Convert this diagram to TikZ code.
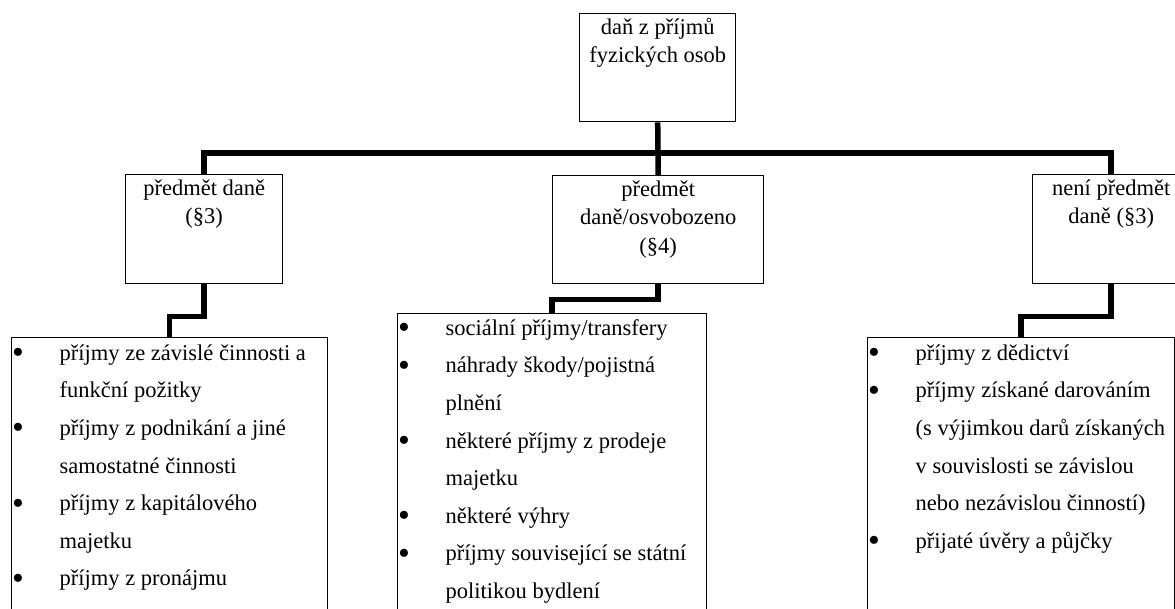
\documentclass[tikz,border=0pt]{standalone}
\usepackage{fontspec}
\setmainfont{Liberation Serif}
\newcommand\mystrutH{\rule{0pt}{21pt}}
\newcommand\mystrutL{\rule{0pt}{23pt}}
\newcommand\myitem{\makebox[47.5pt][l]{\raisebox{-3.5pt}{\scalebox{1.5}{•}}}}
\newcommand\mycont{\makebox[47.5pt][l]{}}
\begin{document}
\begin{tikzpicture}[x=1pt,y=-1pt,
  hbox/.style={draw, line width=1.4pt, inner sep=0pt, anchor=north west},
  conn/.style={line width=5.5pt},
  htext/.style={anchor=north, inner sep=0pt, align=center, font=\fontsize{22.5}{28.5}\selectfont},
  ltext/.style={anchor=north west, inner sep=0pt, align=left, font=\fontsize{22.5}{37.6}\selectfont}]
\useasboundingbox (0,0) rectangle (1175,609);
\clip (0,0) rectangle (1175,609);
% boxes
\node[hbox, minimum width=156pt, minimum height=108pt] (top) at (579,13) {};
\node[hbox, minimum width=211pt, minimum height=108pt] (mid) at (552,175) {};
\node[hbox, minimum width=157pt, minimum height=109pt] (left) at (125,174) {};
\node[hbox, minimum width=157pt, minimum height=109pt] (right) at (1032,174) {};
\node[hbox, minimum width=316pt, minimum height=320pt] (leftlist) at (11,337) {};
\node[hbox, minimum width=309pt, minimum height=340pt] (midlist) at (397,313) {};
\node[hbox, minimum width=307pt, minimum height=320pt] (rightlist) at (867,337) {};
% connectors
\coordinate (bus) at (657,153);
\draw[conn] (left.north) -- (left.north |- bus) -- (right.north |- bus) -- (right.north);
\draw[conn] (top.south) -- (mid.north);
\draw[conn] (left.south) -- ++(0,32) -| (leftlist.north);
\draw[conn] (mid.south) -- ++(0,15) -| (midlist.north);
\draw[conn] (right.south) -- ++(0,32) -| (rightlist.north);
% header texts
\node[htext] (toptext) at (top.north) {\mystrutH daň z příjmů\\fyzických osob};
\node[htext] (midtext) at (mid.north) {\mystrutH předmět\\daně/osvobozeno\\(§4)};
\node[htext] (lefttext) at (left.north) {\mystrutH předmět daně\\(§3)};
\node[htext] (righttext) at (right.north) {\mystrutH není předmět\\daně (§3)};
% list texts
\node[ltext] (leftitems) at ([xshift=1pt]leftlist.north west) {\mystrutL\myitem příjmy ze závislé činnosti a\\
\mycont funkční požitky\\
\myitem příjmy z podnikání a jiné\\
\mycont samostatné činnosti\\
\myitem příjmy z kapitálového\\
\mycont majetku\\
\myitem příjmy z pronájmu};
\node[ltext] (miditems) at ([xshift=1pt,yshift=1pt]midlist.north west) {\mystrutL\myitem sociální příjmy/transfery\\
\myitem náhrady škody/pojistná\\
\mycont plnění\\
\myitem některé příjmy z prodeje\\
\mycont majetku\\
\myitem některé výhry\\
\myitem příjmy související se státní\\
\mycont politikou bydlení};
\node[ltext] (rightitems) at ([xshift=1pt]rightlist.north west) {\mystrutL\myitem příjmy z dědictví\\
\myitem příjmy získané darováním\\
\mycont (s výjimkou darů získaných\\
\mycont v souvislosti se závislou\\
\mycont nebo nezávislou činností)\\
\myitem přijaté úvěry a půjčky};
\end{tikzpicture}
\end{document}
